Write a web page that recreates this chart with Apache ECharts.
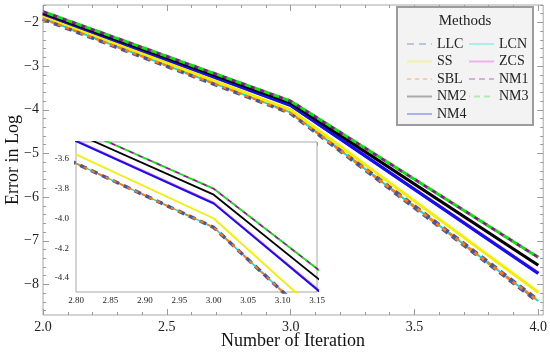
<!DOCTYPE html>
<html><head><meta charset="utf-8">
<script src="https://cdn.jsdelivr.net/npm/echarts@6/dist/echarts.min.js"></script>
<style>html,body{margin:0;padding:0;background:#fff}#c{width:550px;height:358px}</style>
</head><body><div id="c"></div>
<script>
// ---- data ----
const iterations = [2.0, 3.0, 4.0];
const LLC = [-1.91, -4.06, -8.38];
const LCN = [-1.91, -4.06, -8.38];
const SS  = [-1.85, -4.00, -8.18];
const ZCS = [-1.80, -3.895, -7.74];
const SBL = [-1.91, -4.06, -8.38];
const NM1 = [-1.75, -3.80, -7.38];
const NM2 = [-1.78, -3.84, -7.56];
const NM3 = [-1.75, -3.80, -7.38];
const NM4 = [-1.80, -3.90, -7.75];
const xTicks = [2.0, 2.5, 3.0, 3.5, 4.0];
const yTicks = [-2, -3, -4, -5, -6, -7, -8];
const insetXTicks = [2.80, 2.85, 2.90, 2.95, 3.00, 3.05, 3.10, 3.15];
const insetYTicks = [-3.6, -3.8, -4.0, -4.2, -4.4];

const FONT = 'Liberation Serif';
function range(a, b, step) { const r = []; const n = Math.round((b - a) / step); for (let i = 0; i <= n; i++) r.push(+(a + i * step).toFixed(4)); return r; }
const xMinor = range(2.0, 4.0, 0.1).filter(v => !xTicks.some(t => Math.abs(t - v) < 1e-6));
const yMinor = range(-8.6, -1.6, 0.2).filter(v => !yTicks.some(t => Math.abs(t - v) < 1e-6));
const ixMinor = range(2.80, 3.15, 0.01).filter(v => !insetXTicks.some(t => Math.abs(t - v) < 1e-6));
const iyMinor = range(-4.5, -3.5, 0.05).filter(v => !insetYTicks.some(t => Math.abs(t - v) < 1e-6));

const XR = [2.0, 4.02], YR = [-8.7, -1.6];
const IXR = [2.80, 3.15], IYR = [-4.494, -3.486];

function axis(grid, pos, r, ticks, len, labelVals, fmt, fs, margin) {
  return {
    type: 'value', gridIndex: grid, position: pos, min: r[0], max: r[1],
    axisLine: { show: false }, splitLine: { show: false },
    axisTick: { show: true, inside: true, length: len, lineStyle: { color: '#9a9a9a', width: 1 }, customValues: ticks },
    axisLabel: labelVals ? { show: true, customValues: labelVals, formatter: fmt, fontFamily: FONT, fontSize: fs, color: '#222', margin: margin } : { show: false }
  };
}
const fmtX1 = v => v.toFixed(1);
const fmtY1 = v => '\u2212' + Math.abs(v).toFixed(0);
const fmtX2 = v => v.toFixed(2);
const fmtY2 = v => '-' + Math.abs(v).toFixed(1);

const xAxes = [
  axis(0, 'bottom', XR, xTicks, 6, xTicks, fmtX1, 14, 5),
  axis(0, 'bottom', XR, xMinor, 3),
  axis(0, 'top', XR, xTicks, 6),
  axis(0, 'top', XR, xMinor, 3),
  axis(1, 'bottom', IXR, insetXTicks, 4, insetXTicks, fmtX2, 9, 4),
  axis(1, 'bottom', IXR, ixMinor, 2),
  axis(1, 'top', IXR, insetXTicks, 4),
  axis(1, 'top', IXR, ixMinor, 2)
];
const yAxes = [
  axis(0, 'left', YR, yTicks, 6, yTicks, fmtY1, 14, 4),
  axis(0, 'left', YR, yMinor, 3),
  axis(0, 'right', YR, yTicks, 6),
  axis(0, 'right', YR, yMinor, 3),
  axis(1, 'left', IYR, insetYTicks, 4, insetYTicks, fmtY2, 9, 7),
  axis(1, 'left', IYR, iyMinor, 2),
  axis(1, 'right', IYR, insetYTicks, 4),
  axis(1, 'right', IYR, iyMinor, 2)
];

const defs = [
  { name: 'LCN', data: LCN, color: '#00e0e8', w: 2, iw: 1.5, type: 'solid' },
  { name: 'LLC', data: LLC, color: '#4a559c', w: 5, iw: 3.5, type: [7, 5] },
  { name: 'SBL', data: SBL, color: '#ff7a00', w: 3, iw: 2, type: [4, 4] },
  { name: 'SS',  data: SS,  color: '#f4ee00', w: 3, iw: 1.8, type: 'solid' },
  { name: 'ZCS', data: ZCS, color: '#e020e0', w: 3, iw: 1.8, type: 'solid' },
  { name: 'NM4', data: NM4, color: '#1010f0', w: 3.2, iw: 1.8, type: 'solid' },
  { name: 'NM2', data: NM2, color: '#000000', w: 3.2, iw: 1.8, type: 'solid' },
  { name: 'NM1', data: NM1, color: '#8a1a8a', w: 3, iw: 1.8, type: [6, 4] },
  { name: 'NM3', data: NM3, color: '#10e010', w: 3, iw: 1.8, type: [6, 4], off: 5 }
];
const series = [];
defs.forEach(d => {
  const pts = iterations.map((x, i) => [x, d.data[i]]);
  series.push({ name: d.name, type: 'line', xAxisIndex: 0, yAxisIndex: 0, data: pts, symbol: 'none', silent: true, animation: false, clip: true,
    lineStyle: { color: d.color, width: d.w, type: d.type, dashOffset: d.off || 0 }, itemStyle: { color: d.color } });
});
defs.forEach(d => {
  const pts = iterations.map((x, i) => [x, d.data[i]]);
  series.push({ name: d.name, type: 'line', xAxisIndex: 4, yAxisIndex: 4, data: pts, symbol: 'none', silent: true, animation: false, clip: true, z: 5,
    lineStyle: { color: d.color, width: d.iw, type: d.type, dashOffset: d.off || 0 }, itemStyle: { color: d.color } });
});

const legendBase = {
  orient: 'vertical', top: 32, itemWidth: 25, itemHeight: 14, itemGap: 3.5, z: 20,
  textStyle: { fontFamily: FONT, fontSize: 14, color: '#222' },
  lineStyle: { opacity: 0.3, width: 2 }, itemStyle: { opacity: 0 }, selectedMode: false
};

const chart = echarts.init(document.getElementById('c'), null, { renderer: 'canvas' });
chart.setOption({
  backgroundColor: '#fff',
  animation: false,
  grid: [
    { left: 43, top: 5, width: 502, height: 310, show: true, borderColor: '#a8a8a8', borderWidth: 1, backgroundColor: 'transparent' },
    { left: 76, top: 142, width: 241, height: 150, show: true, borderColor: '#a8a8a8', borderWidth: 1, backgroundColor: '#fff', z: 4 }
  ],
  xAxis: xAxes,
  yAxis: yAxes,
  legend: [
    Object.assign({}, legendBase, { left: 401, data: ['LLC', 'SS', 'SBL', 'NM2', 'NM4'] }),
    Object.assign({}, legendBase, { left: 463, data: ['LCN', 'ZCS', 'NM1', 'NM3'] })
  ],
  graphic: [
    { type: 'rect', z: 15, shape: { x: 397, y: 7, width: 136, height: 118 }, style: { fill: '#f3f3f3', stroke: '#9c9c9c', lineWidth: 2 } },
    { type: 'text', z: 16, x: 465, y: 21, style: { text: 'Methods', font: '15px "Liberation Serif"', fill: '#222', textAlign: 'center', textVerticalAlign: 'middle' } },
    { type: 'text', z: 16, x: 293, y: 341, style: { text: 'Number of Iteration', font: '18px "Liberation Serif"', fill: '#111', textAlign: 'center', textVerticalAlign: 'middle' } },
    { type: 'text', z: 16, x: 13, y: 160, rotation: Math.PI / 2, style: { text: 'Error in Log', font: '18px "Liberation Serif"', fill: '#111', textAlign: 'center', textVerticalAlign: 'middle' } }
  ],
  series: series
});
</script>
</body></html>
